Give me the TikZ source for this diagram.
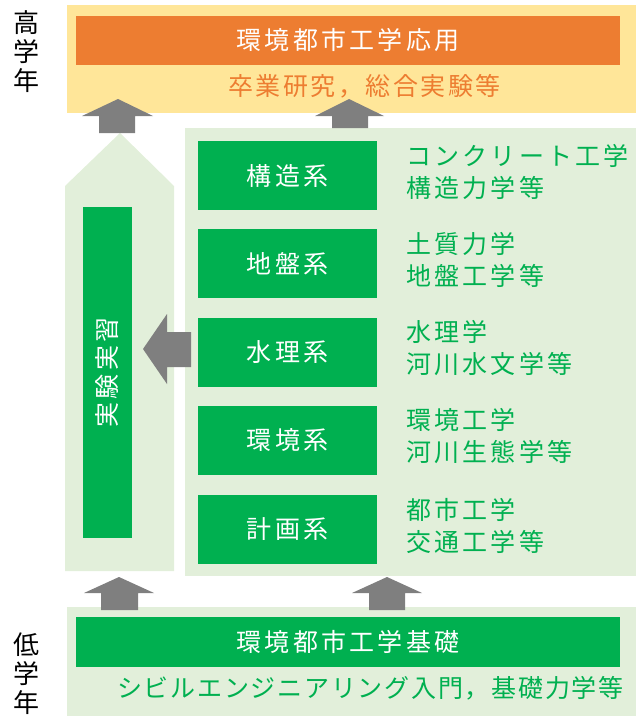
\documentclass[tikz,border=0pt]{standalone}
\usepackage{fontspec}
\setmainfont{Noto Sans CJK JP}
\newfontfamily\jp[LetterSpace=13]{Noto Sans CJK JP}
\newfontfamily\jpmid[LetterSpace=10]{Noto Sans CJK JP}
\newfontfamily\jpnarrow[LetterSpace=7]{Noto Sans CJK JP}
\definecolor{lyellow}{HTML}{FFE699}
\definecolor{orangebox}{HTML}{ED7D31}
\definecolor{gbox}{HTML}{00B050}
\definecolor{lgreen}{HTML}{E2EFDA}
\definecolor{agray}{HTML}{7F7F7F}
\tikzset{
  panel/.style={fill=lgreen, draw=none, inner sep=0, outer sep=0},
  boxtext/.style={text=white, font=\jp\fontsize{25}{28}\selectfont, inner sep=0},
  greenbox/.style={fill=gbox, draw=none, inner sep=0, outer sep=0, boxtext},
  note/.style={text=gbox, font=\jp\fontsize{25}{32}\selectfont, anchor=west, align=left, inner sep=0},
  sidelabel/.style={text=black, font=\fontsize{26}{29}\selectfont, align=center, inner sep=0},
  blockarrow/.style={fill=agray, draw=none}
}
\begin{document}
\begin{tikzpicture}[x=1pt,y=-1pt]
\useasboundingbox (0,0) rectangle (636,717);
% top panel
\node[fill=lyellow, inner sep=0, minimum width=569pt, minimum height=108pt] (toppanel) at (351.5,59) {};
\node[fill=orangebox, minimum width=544pt, minimum height=49pt, boxtext] (applied) at (348,40.5) {環境都市工学応用};
\node[text=orangebox, font=\jpmid\fontsize{25}{28}\selectfont, anchor=west, inner sep=0] (appliednote) at (228,86) {卒業研究，総合実験等};
% right panel
\node[panel, minimum width=451pt, minimum height=448pt] (rightpanel) at (410.5,352) {};
% left pentagon
\fill[lgreen] (65,571) -- (65,186) -- (120,133) -- (174,186) -- (174,571) -- cycle;
\node[greenbox, minimum width=49pt, minimum height=331pt] (lab) at (107.5,372.5) {};
\node[boxtext, rotate=90] (labtext) at (lab.center) {実験実習};
% discipline boxes
\foreach \n/\lbl/\la/\lb/\cy in {kozo/構造系/コンクリート工学/構造力学等/175.5,
  jiban/地盤系/土質力学/地盤工学等/263.5,
  suiri/水理系/水理学/河川水文学等/352.5,
  kankyo/環境系/環境工学/河川生態学等/440.5,
  keikaku/計画系/都市工学/交通工学等/529.5}{
  \node[greenbox, minimum width=179pt, minimum height=69pt] (\n) at (287.5,\cy) {\lbl};
  \node[note] (\n note) at (406,\cy-4) {\la\\\lb};
}
% bottom panel
\node[panel, minimum width=569pt, minimum height=109pt] (bottompanel) at (351.5,661.5) {};
\node[greenbox, minimum width=544pt, minimum height=50pt] (basic) at (348,642) {環境都市工学基礎};
\node[note, font=\jpnarrow\fontsize{25}{32}\selectfont] (basicnote) at (117,688) {シビルエンジニアリング入門，基礎力学等};
% side labels
\node[sidelabel] (upper) at (26,52) {高\\学\\年};
\node[sidelabel] (lower) at (26,674) {低\\学\\年};
% block arrows
\fill[blockarrow] (118,99) -- (153,116) -- (135,116) -- (135,133) -- (99,133) -- (99,116) -- (82,116) -- cycle;
\fill[blockarrow] (349,99) -- (384,116) -- (368,116) -- (368,128) -- (332,128) -- (332,116) -- (315,116) -- cycle;
\fill[blockarrow] (143,349) -- (167,314) -- (167,332) -- (191,332) -- (191,367) -- (167,367) -- (167,384) -- cycle;
\fill[blockarrow] (119,577) -- (154,593) -- (138,593) -- (138,610) -- (101,610) -- (101,593) -- (84,593) -- cycle;
\fill[blockarrow] (387,577) -- (422,593) -- (405,593) -- (405,610) -- (369,610) -- (369,593) -- (352,593) -- cycle;
\end{tikzpicture}
\end{document}
